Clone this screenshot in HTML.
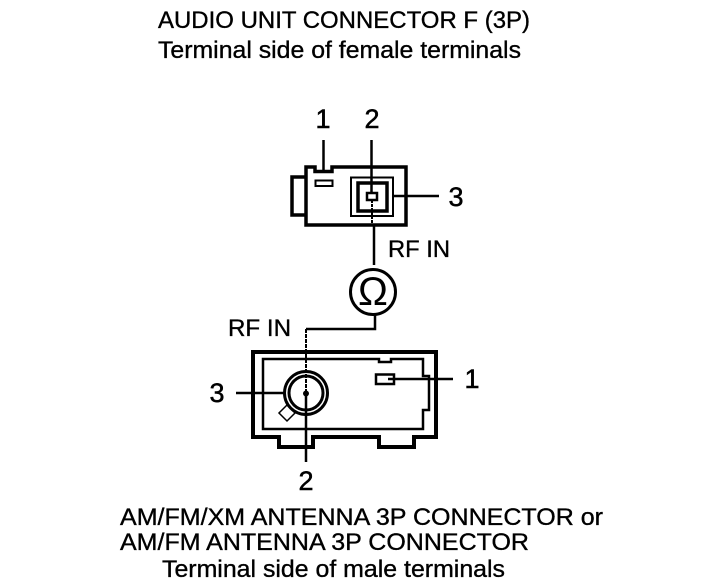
<!DOCTYPE html>
<html>
<head>
<meta charset="utf-8">
<style>
html,body{margin:0;padding:0;background:#fff;width:704px;height:586px;overflow:hidden}
svg{display:block}
text{font-family:"Liberation Sans",sans-serif;fill:#000;stroke:#000;stroke-width:.35px}
.t{font-size:24px}
.n{font-size:27px;text-anchor:middle;stroke-width:.5px}
.r{font-size:24px}
</style>
</head>
<body>
<svg width="704" height="586" viewBox="0 0 704 586" xmlns="http://www.w3.org/2000/svg">
<rect width="704" height="586" fill="#fff"/>
<text class="t" x="158" y="28" textLength="372" lengthAdjust="spacingAndGlyphs">AUDIO UNIT CONNECTOR F (3P)</text>
<text class="t" x="158" y="58" textLength="363" lengthAdjust="spacingAndGlyphs">Terminal side of female terminals</text>
<text class="t" x="120" y="525" textLength="483" lengthAdjust="spacingAndGlyphs">AM/FM/XM ANTENNA 3P CONNECTOR or</text>
<text class="t" x="120" y="550" textLength="409" lengthAdjust="spacingAndGlyphs">AM/FM ANTENNA 3P CONNECTOR</text>
<text class="t" x="162" y="577" textLength="343" lengthAdjust="spacingAndGlyphs">Terminal side of male terminals</text>

<text class="n" x="323" y="128">1</text>
<text class="n" x="372" y="128">2</text>
<text class="n" x="456" y="206">3</text>
<text class="n" x="217" y="402">3</text>
<text class="n" x="472" y="388">1</text>
<text class="n" x="306" y="490">2</text>
<text class="r" x="388" y="257" textLength="62" lengthAdjust="spacingAndGlyphs">RF IN</text>
<text class="r" x="228" y="336" textLength="63" lengthAdjust="spacingAndGlyphs">RF IN</text>

<g fill="none" stroke="#000">
  <!-- top connector -->
  <path d="M315 167H306V225H406V167H332V171.5H315Z" stroke-width="3.500" stroke-linejoin="miter"/>
  <path d="M305 177H292V215H305" stroke-width="3.500"/>
  <rect x="315.500" y="180.500" width="17" height="5.500" stroke-width="2"/>
  <rect x="351" y="177.500" width="42" height="38.500" stroke-width="2"/>
  <rect x="358" y="183" width="29" height="28" stroke-width="3.500"/>
  <rect x="367" y="193" width="10" height="7" stroke-width="2.500"/>
  <path d="M323.500 140V171M371.500 140V193M393 196H439" stroke-width="2.500"/>
  <path d="M372 200V226" stroke-width="2" stroke-dasharray="3 1"/>
  <path d="M374 226V265" stroke-width="2.500"/>
  <!-- omega -->
  <circle cx="373" cy="292" r="22.500" stroke-width="3"/>
  <path d="M375 315V329H306" stroke-width="2.500"/>
  <path d="M306 329V393" stroke-width="2" stroke-dasharray="4 1"/>
  <!-- bottom connector -->
  <path d="M253 352H436V437H414V447H379V437H313V447H279V437H253Z" stroke-width="4"/>
  <path d="M263 359H379V362H391V359H423V376H429V410H423V429H263Z" stroke-width="2.500"/>
  <circle cx="306" cy="393" r="21.500" stroke-width="3"/>
  <circle cx="306" cy="393" r="17" stroke-width="3"/>
  <circle cx="306" cy="393.500" r="2" stroke-width="2"/>
  <path d="M287 405L295 413L287 421L279 413Z" stroke-width="1.500"/>
  <rect x="376" y="374.500" width="18" height="9.500" stroke-width="2.500"/>
  <path d="M388 379H453M236 393H284M306 393V462" stroke-width="2.500"/>
</g>
<text x="373" y="305" font-size="40" text-anchor="middle" style="stroke-width:0">Ω</text>
</svg>
</body>
</html>
